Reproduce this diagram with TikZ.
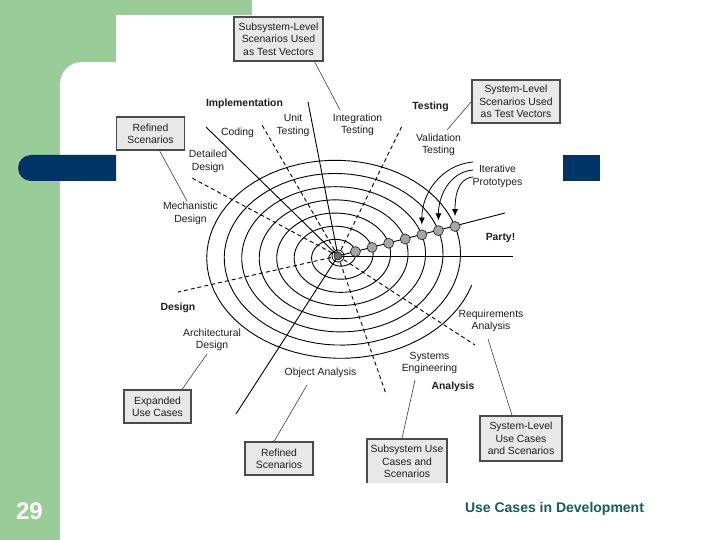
\documentclass[tikz,border=0pt]{standalone}
\usepackage{fontspec}
\setmainfont{Liberation Sans}
\usetikzlibrary{arrows.meta, positioning, calc}

\definecolor{slgreen}{RGB}{153,204,153}
\definecolor{slblue}{RGB}{0,51,102}
\definecolor{slteal}{RGB}{22,92,92}
\definecolor{ink}{RGB}{30,30,30}
\newcommand{\lblfont}{\fontsize{10.4}{12.4}\selectfont}

\begin{document}
\begin{tikzpicture}[x=1pt, y=-1pt,
    box/.style={draw=ink!80, line width=1.1pt, fill=gray!18, align=center, inner sep=0pt, minimum height=33pt, font=\lblfont, text=ink},
    lbl/.style={align=center, inner sep=0pt, font=\lblfont, text=ink},
    phase/.style={lbl, font=\lblfont\bfseries},
    lead/.style={draw=ink!85, line width=0.6pt},
    ray/.style={line width=0.9pt},
    dray/.style={line width=0.9pt, dash pattern=on 4pt off 3pt},
    pdot/.style={circle, draw=ink, fill=gray!70, line width=0.6pt, inner sep=0pt, minimum size=10pt}
]
    \useasboundingbox (0,0) rectangle (720,540);
    % slide background
    \fill[white] (0,0) rectangle (720,540);
    \fill[slgreen] (0,0) rectangle (60,540);
    \fill[slgreen] (60,0) rectangle (252,15);
    \fill[slgreen] (60,15) rectangle (116,62);
    \fill[slgreen] (60,62) rectangle (82,84);
    \fill[white] (82,84) circle (22);
    \fill[slblue, rounded corners=13pt] (116,155) -- (18,155) -- (18,181) -- (116,181);
    \fill[slblue] (563,155) rectangle (600,181);
    \node[text=white, font=\fontsize{24}{28}\selectfont\bfseries] (pgno) at (29.5,511) {29};
    \node[text=slteal, font=\fontsize{14}{16}\selectfont\bfseries] (title) at (554.5,509) {Use Cases in Development};

    \begin{scope}
    \clip (116,15) rectangle (563,482);
    % spiral (parameter in turns)
    \coordinate (o) at (338,256);
    \draw[line width=0.9pt] plot[domain=0.25:7.96, samples=600] ({338+17.5*\x*cos(360*\x)}, {256-13.2*\x*sin(360*\x)});
    \draw[line width=0.8pt] (o) circle (6);

    % ray ends
    \coordinate (eUnit) at (308,102);
    \coordinate (eCode) at (206,127);
    \coordinate (eObj) at (236,414);
    \coordinate (eParty) at (513,256);
    \coordinate (eProto) at (505,213);
    \coordinate (dCode) at (262,125);
    \coordinate (dInteg) at (402,126);
    \coordinate (dDet) at (190,177);
    \coordinate (dDes) at (178,292);
    \coordinate (dSys) at (386,394);
    \coordinate (dReq) at (475,345);
    \foreach \e in {eUnit, eCode, eObj, eParty, eProto}
        \draw[ray] (o) -- (\e);
    \foreach \e in {dCode, dInteg, dDet, dDes, dSys, dReq}
        \draw[dray] (o) -- (\e);
    \node[circle, draw=ink, fill=ink!65, line width=0.6pt, inner sep=0pt, minimum size=8pt] (ctr) at (o) {};

    % prototypes
    \foreach \k in {1,...,7}
        \node[pdot] (p\k) at ({338+17.5*(\k+0.0514)*cos(18.5)}, {256-13.2*(\k+0.0514)*sin(18.5)}) {};
    \coordinate (a5) at (473,162);
    \coordinate (a6) at (473,170);
    \coordinate (a7) at (473,177);
    \foreach \k in {5,6,7}
        \draw[line width=0.8pt, -{Latex[length=7pt, width=6pt]}] (a\k) to[out=185, in=90] ([yshift=5pt]p\k.north);

    % phase titles
    \node[phase] (impl) at (244.5,104) {Implementation};
    \node[phase] (test) at (430.5,107) {Testing};
    \node[phase] (party) at (500.5,238) {Party!};
    \node[phase] (desg) at (178,308) {Design};
    \node[phase] (anal) at (453,387) {Analysis};

    % activities
    \node[lbl] (cod) at (237.5,133) {Coding};
    \node[lbl] (unit) at (293,125.5) {Unit\\Testing};
    \node[lbl] (integ) at (357.5,125) {Integration\\Testing};
    \node[lbl] (valid) at (438.5,145) {Validation\\Testing};
    \node[lbl] (proto) at (497.5,176.5) {Iterative\\Prototypes};
    \node[lbl] (detail) at (208,161.5) {Detailed\\Design};
    \node[lbl] (mech) at (190.5,213.5) {Mechanistic\\Design};
    \node[lbl] (arch) at (212,340) {Architectural\\Design};
    \node[lbl] (objan) at (320.5,373) {Object Analysis};
    \node[lbl] (syseng) at (429.5,363) {Systems\\Engineering};
    \node[lbl] (reqan) at (491,321) {Requirements\\Analysis};

    % artifacts
    \node[box, minimum width=89pt, minimum height=44pt] (subTV) at (278.5,39) {Subsystem-Level\\Scenarios Used\\as Test Vectors};
    \node[box, minimum width=88pt, minimum height=43pt] (sysTV) at (516,101.5) {System-Level\\Scenarios Used\\as Test Vectors};
    \node[box, minimum width=68pt] (refTop) at (150.5,133.5) {Refined\\Scenarios};
    \node[box, minimum width=67pt] (expUC) at (157.5,406.5) {Expanded\\Use Cases};
    \node[box, minimum width=68pt] (refBot) at (279,458.5) {Refined\\Scenarios};
    \node[box, minimum width=80pt, minimum height=45pt] (subUC) at (407,461.5) {Subsystem Use\\Cases and\\Scenarios};
    \node[box, minimum width=82pt, minimum height=45pt] (sysUC) at (521,438.5) {System-Level\\Use Cases\\and Scenarios};

    \coordinate (lSubTV) at (340,110);
    \coordinate (lSysTV) at (447,130);
    \coordinate (lRefTop) at (187,201);
    \coordinate (lExpUC) at (207,354);
    \coordinate (lRefBot) at (307,385);
    \coordinate (lSubUC) at (415,380);
    \coordinate (lSysUC) at (488,339);
    \draw[lead] ([xshift=36pt]subTV.south) -- (lSubTV);
    \draw[lead] (sysTV.west) -- (lSysTV);
    \draw[lead] ([xshift=9pt]refTop.south) -- (lRefTop);
    \draw[lead] ([xshift=24.5pt]expUC.north) -- (lExpUC);
    \draw[lead] ([xshift=-5pt]refBot.north) -- (lRefBot);
    \draw[lead] ([xshift=-5pt]subUC.north) -- (lSubUC);
    \draw[lead] ([xshift=-9pt]sysUC.north) -- (lSysUC);
    \end{scope}
\end{tikzpicture}
\end{document}
